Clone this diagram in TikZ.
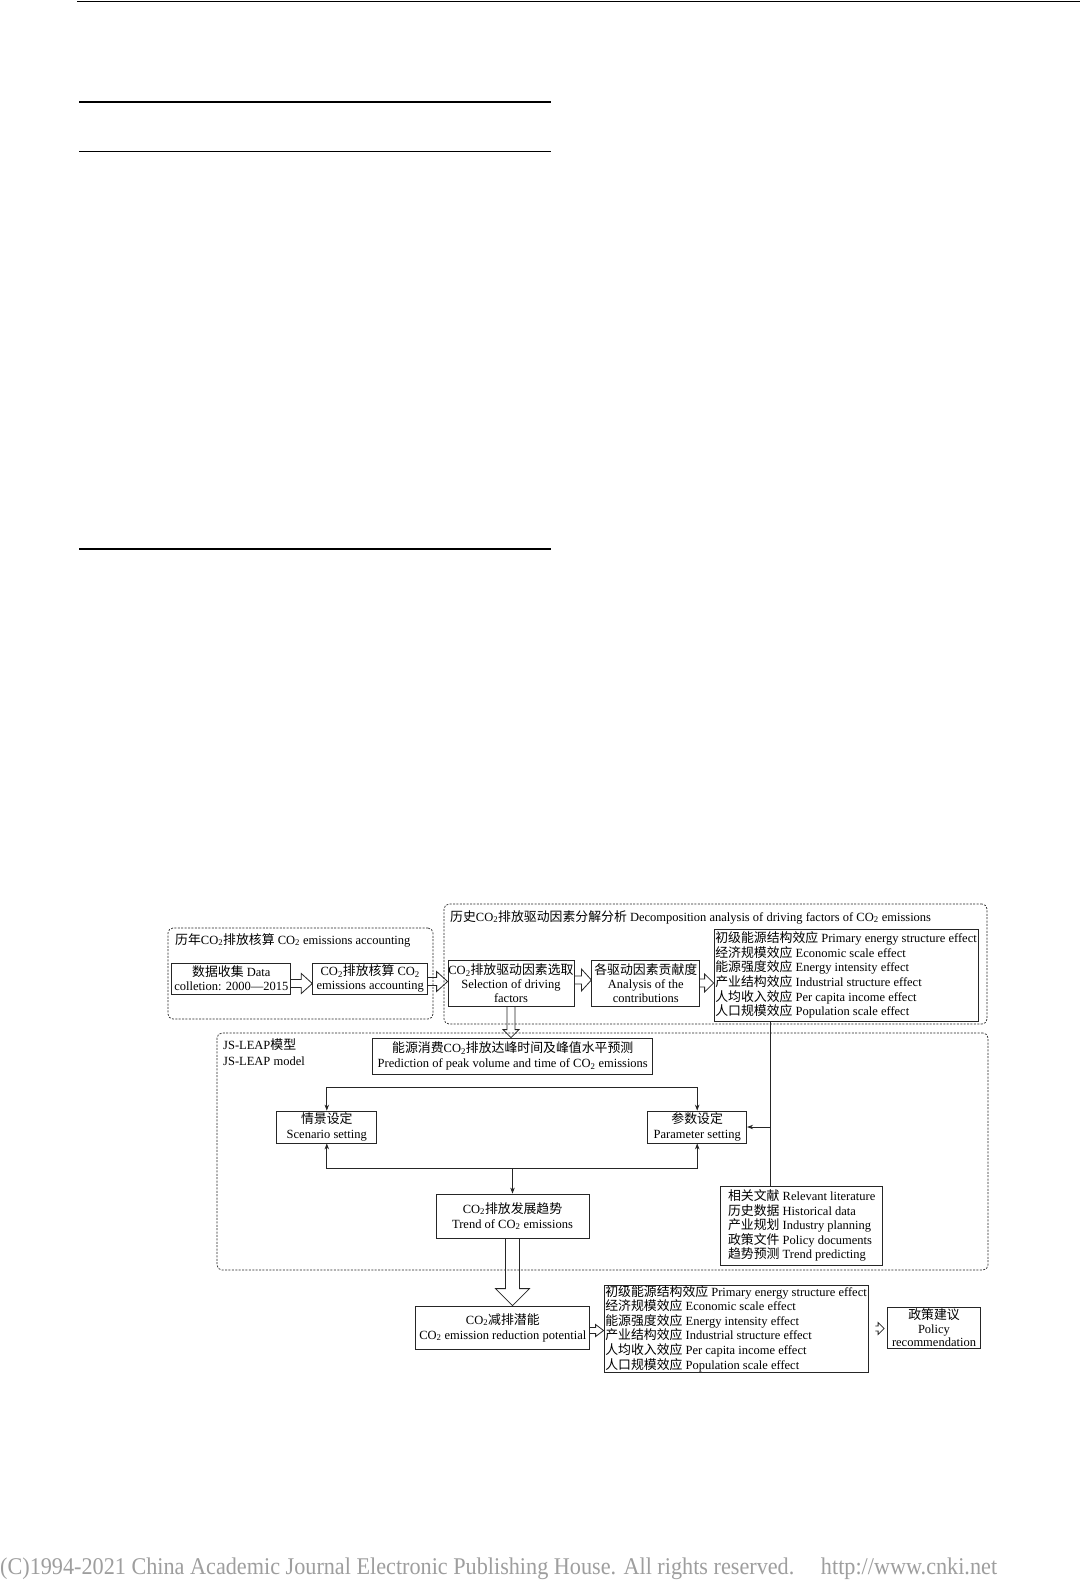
\documentclass[tikz,border=0pt]{standalone}
\usepackage{fontspec}
\setmainfont{Liberation Serif}
\newfontfamily\zhfont{Noto Sans CJK SC}[Scale=1.03]
\usepackage{graphicx}
\usetikzlibrary{calc,arrows.meta}
\newcommand\zh[1]{{\zhfont #1}}
\newcommand\COt{CO\textsubscript{2}}
% hollow arrow to the right: start, end, half shaft, half head, head length
\newcommand\harr[5]{\draw[hollow] let \p1=#1, \p2=#2 in (\x1,\y1+#3) -- (\x2-#5,\y1+#3) -- (\x2-#5,\y1+#4) -- (\x2,\y1) -- (\x2-#5,\y1-#4) -- (\x2-#5,\y1-#3) -- (\x1,\y1-#3);}
% hollow arrow downwards
\newcommand\varr[5]{\draw[hollow] let \p1=#1, \p2=#2 in (\x1-#3,\y1) -- (\x1-#3,\y2+#5) -- (\x1-#4,\y2+#5) -- (\x1,\y2) -- (\x1+#4,\y2+#5) -- (\x1+#3,\y2+#5) -- (\x1+#3,\y1);}
\begin{document}
\begin{tikzpicture}[x=1pt,y=-1pt,
  box/.style={draw=black!85, line width=0.8pt, inner sep=0pt, align=center, font=\fontsize{12.5}{14}\selectfont},
  lst/.style={draw=black!85, line width=0.8pt, inner sep=1pt, align=left, font=\fontsize{12.5}{14.6}\selectfont},
  grp/.style={draw=black!85, line width=0.7pt, dash pattern=on 2pt off 1.4pt, rounded corners=5pt},
  ttl/.style={anchor=west, inner sep=0pt, align=left, font=\fontsize{12.5}{16}\selectfont},
  con/.style={draw=black!85, line width=0.8pt},
  hollow/.style={draw=black!85, line width=0.8pt},
  >={Stealth[length=6pt,width=4.5pt]}
]
\useasboundingbox (0,0) rectangle (1080,1580);
\fill[white] (0,0) rectangle (1080,1580);

% page rules
\draw[line width=1pt] (77,1) -- (1080,1);
\draw[line width=2pt] (79,101.7) -- (551,101.7);
\draw[line width=1pt] (79,151) -- (551,151);
\draw[line width=2pt] (79,549) -- (551,549);

% group boxes
\node[grp, minimum width=265, minimum height=91] (A) at (300.5,973.5) {};
\node[ttl] (At) at (175,940) {\zh{历年}\COt\zh{排放核算} \COt{} emissions accounting};
\node[grp, minimum width=543, minimum height=120] (B) at (715.5,964) {};
\node[ttl] (Bt) at (450,917) {\zh{历史}\COt\zh{排放驱动因素分解分析} Decomposition analysis of driving factors of \COt{} emissions};
\node[grp, minimum width=771, minimum height=237] (C) at (602.5,1151.5) {};
\node[ttl] (Ct) at (223,1052) {JS-LEAP\zh{模型}\\JS-LEAP model};

% boxes
\node[box, minimum width=119, minimum height=31] (b1) at (231.3,978.5) {\zh{数据收集} Data\\colletion: 2000—2015};
\node[box, minimum width=115, minimum height=31] (b2) at (370.2,978.5) {\COt\zh{排放核算} \COt\\emissions accounting};
\node[box, minimum width=126, minimum height=46] (b3) at (511,983) {\COt\zh{排放驱动因素选取}\\Selection of driving\\factors};
\node[box, minimum width=108, minimum height=46] (b4) at (645.8,983) {\zh{各驱动因素贡献度}\\Analysis of the\\contributions};
\node[lst, minimum width=264, minimum height=92] (e1) at (846,975) {\zh{初级能源结构效应} Primary energy structure effect\\\zh{经济规模效应} Economic scale effect\\\zh{能源强度效应} Energy intensity effect\\\zh{产业结构效应} Industrial structure effect\\\zh{人均收入效应} Per capita income effect\\\zh{人口规模效应} Population scale effect};

\node[box, minimum width=280, minimum height=36, font=\fontsize{12.5}{15}\selectfont] (p) at (512.8,1056) {\zh{能源消费}\COt\zh{排放达峰时间及峰值水平预测}\\Prediction of peak volume and time of \COt{} emissions};
\node[box, minimum width=100, minimum height=32, font=\fontsize{12.5}{15}\selectfont] (s) at (326.8,1127) {\zh{情景设定}\\Scenario setting};
\node[box, minimum width=99, minimum height=32, font=\fontsize{12.5}{15}\selectfont] (q) at (697.2,1127) {\zh{参数设定}\\Parameter setting};
\node[box, minimum width=153, minimum height=44, font=\fontsize{12.5}{15}\selectfont] (t) at (512.5,1216) {\COt\zh{排放发展趋势}\\Trend of \COt{} emissions};
\node[lst, inner xsep=6pt, minimum width=162, minimum height=79] (r) at (801.7,1225.5) {\zh{相关文献} Relevant literature\\\zh{历史数据} Historical data\\\zh{产业规划} Industry planning\\\zh{政策文件} Policy documents\\\zh{趋势预测} Trend predicting};

\node[box, minimum width=174, minimum height=43, font=\fontsize{12.5}{15}\selectfont] (red) at (502.8,1327.5) {\COt\zh{减排潜能}\\\COt{} emission reduction potential};
\node[lst, minimum width=264, minimum height=87, inner sep=0pt] (e2) at (736,1328.5) {\zh{初级能源结构效应} Primary energy structure effect\\\zh{经济规模效应} Economic scale effect\\\zh{能源强度效应} Energy intensity effect\\\zh{产业结构效应} Industrial structure effect\\\zh{人均收入效应} Per capita income effect\\\zh{人口规模效应} Population scale effect};
\node[box, minimum width=93, minimum height=41, font=\fontsize{12.5}{13.2}\selectfont] (pol) at (934,1327.7) {\zh{政策建议}\\Policy\\recommendation};

% hollow arrows
\harr{($(b1.east)+(0,5)$)}{(b2.west)}{4pt}{10pt}{11pt}
\harr{($(b2.east)+(0,3)$)}{(b3.west)}{4pt}{10pt}{11pt}
\harr{($(b3.east)+(0,-3)$)}{(b4.west)}{4pt}{11pt}{10pt}
\harr{(b4.east)}{(e1.west)}{4pt}{9pt}{9pt}
\varr{(b3.south)}{(p.north)}{4pt}{8pt}{8pt}
\varr{(t.south)}{(red.north)}{7pt}{17pt}{17pt}
\harr{($(red.east)+(0,3)$)}{(e2.west)}{3pt}{6pt}{8pt}
\coordinate (pa) at ($(e2.east)+(7,0)$);
\coordinate (pb) at ($(pol.west)+(-3,0)$);
\harr{(pa)}{(pb)}{2.5pt}{6pt}{6pt}

% thin connectors
\coordinate (tb) at (0,1087);
\coordinate (bb) at (0,1168);
\coordinate (vx) at (770,0);
\draw[con,<->] (s.north) -- (s.north |- tb) -- (q.north |- tb) -- (q.north);
\draw[con,<->] (s.south) -- (s.south |- bb) -- (q.south |- bb) -- (q.south);
\draw[con,->] (t.north |- bb) -- (t.north);
\draw[con] (vx |- e1.south) -- (vx |- r.north);
\draw[con,->] (vx |- q.east) -- (q.east);

% footer
\node[anchor=base west, inner sep=0pt, text=black!38] (foot) at (0,1574) {\scalebox{0.925}[1]{\fontsize{24}{24}\selectfont (C)1994-2021 China Academic Journal Electronic Publishing House. All rights reserved.\hspace{1.2em}http://www.cnki.net}};
\end{tikzpicture}
\end{document}
